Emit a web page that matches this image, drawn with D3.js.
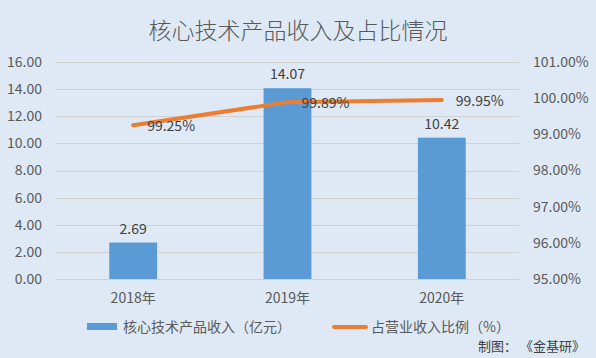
<!DOCTYPE html>
<html><head><meta charset="utf-8">
<script src="https://cdn.jsdelivr.net/npm/d3@7"></script>
<style>html,body{margin:0;padding:0;background:#DEE9F5;}svg{display:block;}</style>
</head><body>
<svg id="c" width="596" height="358"></svg>
<script>
const categories = ["2018年", "2019年", "2020年"];
const revenue = [2.69, 14.07, 10.42];
const share = [99.25, 99.89, 99.95];
const leftTicks = [0, 2, 4, 6, 8, 10, 12, 14, 16];
const rightTicks = [95, 96, 97, 98, 99, 100, 101];
const title = "核心技术产品收入及占比情况";
const seriesNames = ["核心技术产品收入（亿元）", "占营业收入比例（%）"];
const source = "制图： 《金基研》";

const svg = d3.select("#c");
const W = 596, H = 358;
const m = {l: 56, r: 77, t: 62, b: 79};
const font = "'Noto Sans CJK SC', 'Liberation Sans', sans-serif";
const txt = "#595959";

svg.append("rect").attr("width", W).attr("height", H).attr("fill", "#DEE9F5");

const x = d3.scaleBand().domain(categories).range([m.l, W - m.r]).paddingInner(0.69).paddingOuter(0.345);
const y = d3.scaleLinear().domain([0, 16]).range([H - m.b, m.t]);
const y2 = d3.scaleLinear().domain([95, 101]).range([H - m.b, m.t]);

// gridlines
svg.append("g").selectAll("line").data(leftTicks).join("line")
  .attr("x1", m.l).attr("x2", W - m.r)
  .attr("y1", d => Math.round(y(d)) + 0.5).attr("y2", d => Math.round(y(d)) + 0.5)
  .attr("stroke", "#D0D0D0").attr("stroke-width", 1);

// left axis
const la = svg.append("g").attr("transform", `translate(${m.l - 14},0)`)
  .call(d3.axisLeft(y).tickValues(leftTicks).tickFormat(d3.format(".2f")).tickSize(0).tickPadding(0));
la.select(".domain").remove();
la.selectAll("text").attr("fill", txt).style("font-size", "14px").style("font-family", font);

// right axis
const ra = svg.append("g").attr("transform", `translate(${W - m.r + 14},0)`)
  .call(d3.axisRight(y2).tickValues(rightTicks).tickFormat(d => d3.format(".2f")(d) + "%").tickSize(0).tickPadding(0));
ra.select(".domain").remove();
ra.selectAll("text").attr("fill", txt).style("font-size", "14px").style("font-family", font);

// x axis labels
const xa = svg.append("g").attr("transform", `translate(0,${H - m.b + 14})`)
  .call(d3.axisBottom(x).tickSize(0).tickPadding(0));
xa.select(".domain").remove();
xa.selectAll("text").attr("fill", txt).style("font-size", "14px").style("font-family", font);

// bars
svg.append("g").selectAll("rect").data(revenue).join("rect")
  .attr("x", (d, i) => x(categories[i]))
  .attr("width", x.bandwidth())
  .attr("y", d => y(d))
  .attr("height", d => y(0) - y(d))
  .attr("fill", "#5B9BD5");

svg.append("g").selectAll("text").data(revenue).join("text")
  .attr("x", (d, i) => x(categories[i]) + x.bandwidth() / 2)
  .attr("y", d => y(d) - 9)
  .attr("text-anchor", "middle")
  .attr("fill", "#404040").style("font-size", "14px").style("font-family", font)
  .text(d => d3.format(".2f")(d));

// line
const cx = (i) => x(categories[i]) + x.bandwidth() / 2;
const line = d3.line().x((d, i) => cx(i)).y(d => y2(d));
svg.append("path").datum(share).attr("d", line)
  .attr("fill", "none").attr("stroke", "#ED7D31").attr("stroke-width", 4).attr("stroke-linecap", "round");

svg.append("g").selectAll("text").data(share).join("text")
  .attr("x", (d, i) => cx(i) + 14)
  .attr("y", d => y2(d) + 6)
  .attr("fill", "#404040").style("font-size", "14px").style("font-family", font)
  .text(d => d3.format(".2f")(d) + "%");

// title
svg.append("text").attr("x", W / 2).attr("y", 39).attr("text-anchor", "middle")
  .attr("fill", txt).style("font-size", "23px").style("font-weight", "300").style("font-family", font).text(title);

// legend
const lg = svg.append("g");
lg.append("rect").attr("x", 87).attr("y", 323).attr("width", 30).attr("height", 7).attr("fill", "#5B9BD5");
lg.append("text").attr("x", 123).attr("y", 332).attr("fill", txt).style("font-size", "14px").style("font-family", font).text(seriesNames[0]);
lg.append("line").attr("x1", 334).attr("x2", 366).attr("y1", 327).attr("y2", 327)
  .attr("stroke", "#ED7D31").attr("stroke-width", 4).attr("stroke-linecap", "round");
lg.append("text").attr("x", 371).attr("y", 332).attr("fill", txt).style("font-size", "14px").style("font-family", font).text(seriesNames[1]);

svg.append("text").attr("x", 585).attr("y", 351).attr("text-anchor", "end").attr("xml:space", "preserve")
  .style("white-space", "pre")
  .attr("fill", "#404040").style("font-size", "13px").style("font-family", font).text(source);
</script>
</body></html>
